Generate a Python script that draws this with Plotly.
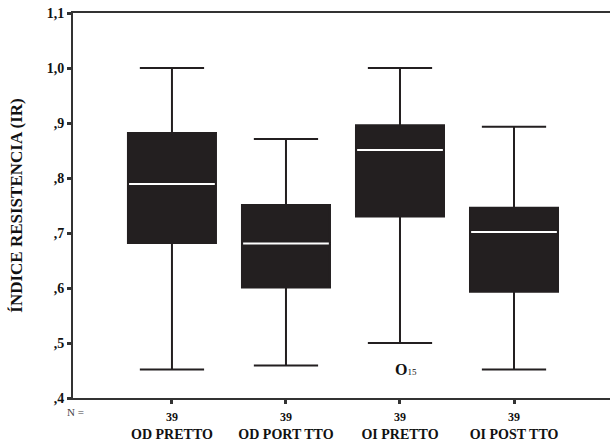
import plotly.graph_objects as go

categories = ["OD PRETTO", "OD PORT TTO", "OI PRETTO", "OI POST TTO"]
n_counts = [39, 39, 39, 39]
lower = [0.452, 0.459, 0.500, 0.452]
q1 = [0.682, 0.601, 0.730, 0.593]
median = [0.789, 0.681, 0.851, 0.702]
q3 = [0.882, 0.751, 0.896, 0.746]
upper = [1.000, 0.871, 1.000, 0.893]
outlier_cat = ["OI PRETTO"]
outlier_val = [0.452]
outlier_id = ["15"]
ytick_vals = [0.4, 0.5, 0.6, 0.7, 0.8, 0.9, 1.0, 1.1]
ytick_text = [",4", ",5", ",6", ",7", ",8", ",9", "1,0", "1,1"]

FONT = "Liberation Serif"
DARK = "#231f20"
BOXW = 0.772

fig = go.Figure()
fig.add_trace(go.Box(
    x=categories, q1=q1, median=median, q3=q3,
    lowerfence=lower, upperfence=upper,
    width=BOXW, whiskerwidth=0.73,
    fillcolor=DARK, line=dict(color=DARK, width=2),
    boxpoints=False, hoverinfo="skip", showlegend=False,
))

# white median lines derived from the median data
for i, m in enumerate(median):
    fig.add_shape(type="line", xref="x", yref="y",
                  x0=i - BOXW / 2 + 0.01, x1=i + BOXW / 2 - 0.01, y0=m, y1=m,
                  line=dict(color="white", width=2), layer="above")

# outlier label
for c, v, t in zip(outlier_cat, outlier_val, outlier_id):
    fig.add_annotation(x=c, y=v, xref="x", yref="y", showarrow=False,
                       text=f"<b>O</b><span style='font-size:9px'>{t}</span>",
                       xanchor="left", xshift=-7, yanchor="middle",
                       font=dict(family=FONT, size=16, color="#111"))

fig.add_annotation(x=(75 - 73) / 537, y=-(416 - 402) / 389, xref="paper", yref="paper",
                   text="N =", showarrow=False, xanchor="center", yanchor="middle",
                   font=dict(family=FONT, size=11, color="#444"))

ticktext = [f"<span style='font-size:12px'>{n}</span><br>{c}" for n, c in zip(n_counts, categories)]

fig.update_layout(
    width=610, height=442,
    margin=dict(l=73, r=0, t=13, b=40),
    plot_bgcolor="white", paper_bgcolor="white",
    font=dict(family=FONT, color="#111"),
    xaxis=dict(
        type="category", range=[-0.868, 3.842],
        tickvals=categories, ticktext=ticktext,
        tickfont=dict(family=FONT, size=14, color="#111", weight="bold"),
        showline=True, linecolor="#333", linewidth=2, mirror=True,
        ticks="outside", ticklen=4, tickwidth=3, tickcolor="#333",
        showgrid=False, zeroline=False,
    ),
    yaxis=dict(
        range=[0.4, 1.1], tickvals=ytick_vals, ticktext=ytick_text,
        tickfont=dict(family=FONT, size=14, color="#111", weight="bold"),
        showline=True, linecolor="#333", linewidth=2, mirror=False,
        ticks="outside", ticklen=4, tickwidth=3, tickcolor="#333",
        showgrid=False, zeroline=False,
        title=dict(text="ÍNDICE RESISTENCIA (IR)", standoff=20,
                   font=dict(family=FONT, size=17, color="#111", weight="bold")),
    ),
)

fig.write_html("out.html")
